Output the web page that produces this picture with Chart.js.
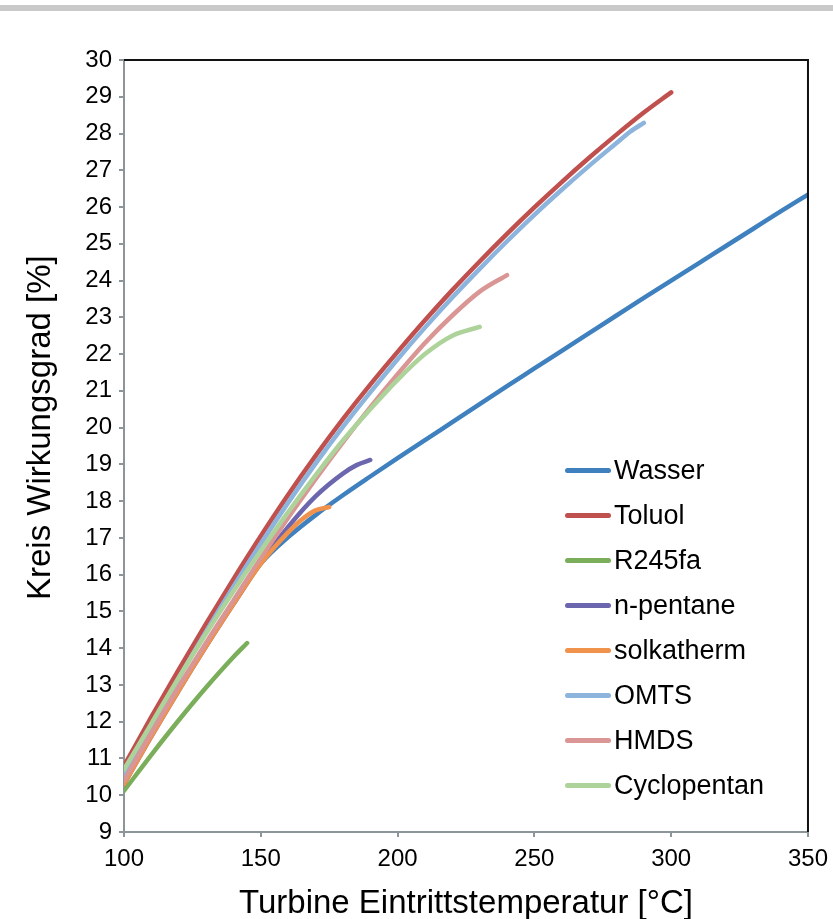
<!DOCTYPE html>
<html>
<head>
<meta charset="utf-8">
<script src="https://cdn.jsdelivr.net/npm/chart.js@4"></script>
<style>
  html, body { margin: 0; padding: 0; background: #fff; overflow: hidden; }
  #wrap { position: relative; width: 833px; height: 919px; overflow: hidden; }
  #topbar { position: absolute; left: 0; top: 5px; width: 833px; height: 6px; background: #c9c9c9; }
  #myChart { position: absolute; left: 0; top: 0; }
  #legend { position: absolute; left: 565px; top: 448px; font-family: "Liberation Sans", Arial, sans-serif; font-size: 27px; color: #000; }
  .item { height: 45px; display: flex; align-items: center; }
  .swatch { width: 46px; height: 5px; border-radius: 2.5px; margin-right: 3px; }
</style>
</head>
<body>
<div id="wrap">
  <div id="topbar"></div>
  <canvas id="myChart" width="836" height="940"></canvas>
  <div id="legend"></div>
</div>
<script>
const nombres = ["Wasser", "Toluol", "R245fa", "n-pentane", "solkatherm", "OMTS", "HMDS", "Cyclopentan"]
const colores = ["#3f80be", "#c0504d", "#7aae5a", "#6b66ad", "#f0914c", "#8db4dc", "#d99694", "#add39b"]

const tempWasser = [100, 110, 120, 130, 140, 150, 160, 170, 180, 190, 200, 210, 220, 230, 240, 250, 260, 270, 280, 290, 300, 310, 320, 330, 340, 350]
const wasser = [10.35, 11.65, 12.9, 14.1, 15.25, 16.3, 17.02, 17.62, 18.16, 18.67, 19.17, 19.66, 20.15, 20.64, 21.13, 21.61, 22.09, 22.57, 23.05, 23.53, 24.0, 24.47, 24.94, 25.41, 25.88, 26.34]

const tempToluol = [100, 110, 120, 130, 140, 150, 160, 170, 180, 190, 200, 210, 220, 230, 240, 250, 260, 270, 280, 290, 300]
const toluol = [10.8, 12.13, 13.42, 14.67, 15.88, 17.05, 18.17, 19.23, 20.23, 21.17, 22.06, 22.92, 23.74, 24.52, 25.27, 25.99, 26.68, 27.34, 27.97, 28.57, 29.12]

const tempR245fa = [100, 110, 120, 130, 140, 145]
const r245fa = [10.12, 11.1, 12.04, 12.93, 13.76, 14.14]

const tempPentane = [100, 110, 120, 130, 140, 150, 160, 170, 180, 185, 190]
const pentane = [10.3, 11.6, 12.85, 14.05, 15.2, 16.32, 17.3, 18.13, 18.75, 18.98, 19.12]

const tempSolka = [100, 110, 120, 130, 140, 150, 160, 165, 170, 175]
const solka = [10.3, 11.6, 12.85, 14.05, 15.2, 16.3, 17.15, 17.5, 17.75, 17.84]

const tempOmts = [100, 110, 120, 130, 140, 150, 160, 170, 180, 190, 200, 210, 220, 230, 240, 250, 260, 270, 280, 285, 290]
const omts = [10.5, 11.87, 13.18, 14.45, 15.67, 16.84, 17.96, 19.02, 20.02, 20.96, 21.86, 22.72, 23.54, 24.32, 25.07, 25.79, 26.47, 27.12, 27.74, 28.05, 28.29]

const tempHmds = [100, 110, 120, 130, 140, 150, 160, 170, 180, 190, 200, 210, 220, 230, 240]
const hmds = [10.4, 11.7, 12.95, 14.15, 15.3, 16.45, 17.55, 18.6, 19.6, 20.55, 21.45, 22.3, 23.05, 23.7, 24.15]

const tempCyclo = [100, 110, 120, 130, 140, 150, 160, 170, 180, 190, 200, 210, 220, 230]
const cyclo = [10.7, 11.95, 13.2, 14.4, 15.55, 16.65, 17.7, 18.7, 19.65, 20.5, 21.3, 22.0, 22.5, 22.74]

const temps = [tempWasser, tempToluol, tempR245fa, tempPentane, tempSolka, tempOmts, tempHmds, tempCyclo]
const valores = [wasser, toluol, r245fa, pentane, solka, omts, hmds, cyclo]

const xTicks = [100, 150, 200, 250, 300, 350]

const fuente = "'Liberation Sans', Arial, sans-serif"

const datasets = nombres.map((nombre, i) => {
    return {
        label: nombre,
        data: temps[i].map((t, j) => ({ x: t, y: valores[i][j] })),
        borderColor: colores[i],
        backgroundColor: colores[i],
        borderWidth: 4.5,
        borderCapStyle: "round",
        pointRadius: 0,
        cubicInterpolationMode: "monotone",
        order: nombres.length - i
    }
})

// rahmen oben und rechts
const rahmen = {
    id: "rahmen",
    afterDraw(chart) {
        const { ctx, chartArea } = chart
        ctx.save()
        ctx.strokeStyle = "#111"
        ctx.lineWidth = 2
        ctx.beginPath()
        ctx.moveTo(chartArea.left, chartArea.top)
        ctx.lineTo(chartArea.right, chartArea.top)
        ctx.lineTo(chartArea.right, chartArea.bottom)
        ctx.stroke()
        ctx.restore()
    }
}

const chartDOM = document.getElementById("myChart").getContext("2d")
new Chart(chartDOM, {
    type: "line",
    data: { datasets },
    plugins: [rahmen],
    options: {
        responsive: false,
        animation: false,
        layout: { padding: { top: 60, right: 25, left: 0, bottom: 0 } },
        plugins: { legend: { display: false }, tooltip: { enabled: false } },
        scales: {
            x: {
                type: "linear",
                min: 100,
                max: 350,
                afterFit(scale) { scale.height = 108 },
                afterBuildTicks(scale) { scale.ticks = xTicks.map(v => ({ value: v })) },
                grid: { drawOnChartArea: false, tickLength: 5, color: "#8c9599", lineWidth: 2 },
                border: { color: "#8c9599", width: 2 },
                ticks: { color: "#000", font: { family: fuente, size: 24 }, padding: 8, maxRotation: 0 },
                title: {
                    display: true,
                    text: "Turbine Eintrittstemperatur [°C]",
                    color: "#000",
                    font: { family: fuente, size: 33 },
                    padding: { top: 0, bottom: 16 }
                }
            },
            y: {
                min: 9,
                max: 30,
                afterFit(scale) { scale.width = 124 },
                grid: { drawOnChartArea: false, tickLength: 5, color: "#8c9599", lineWidth: 2 },
                border: { color: "#8c9599", width: 2 },
                ticks: { stepSize: 1, color: "#000", font: { family: fuente, size: 24 }, padding: 7 },
                title: {
                    display: true,
                    text: "\u00a0\u00a0\u00a0\u00a0Kreis Wirkungsgrad [%]",
                    color: "#000",
                    font: { family: fuente, size: 33 },
                    padding: { top: 21, bottom: 0 }
                }
            }
        }
    }
})

// legende
const legend = document.getElementById("legend")
let html = ""
nombres.forEach((nombre, i) => {
    html += `<div class="item"><div class="swatch" style="background:${colores[i]}"></div><span>${nombre}</span></div>`
})
legend.innerHTML = html
</script>
</body>
</html>
